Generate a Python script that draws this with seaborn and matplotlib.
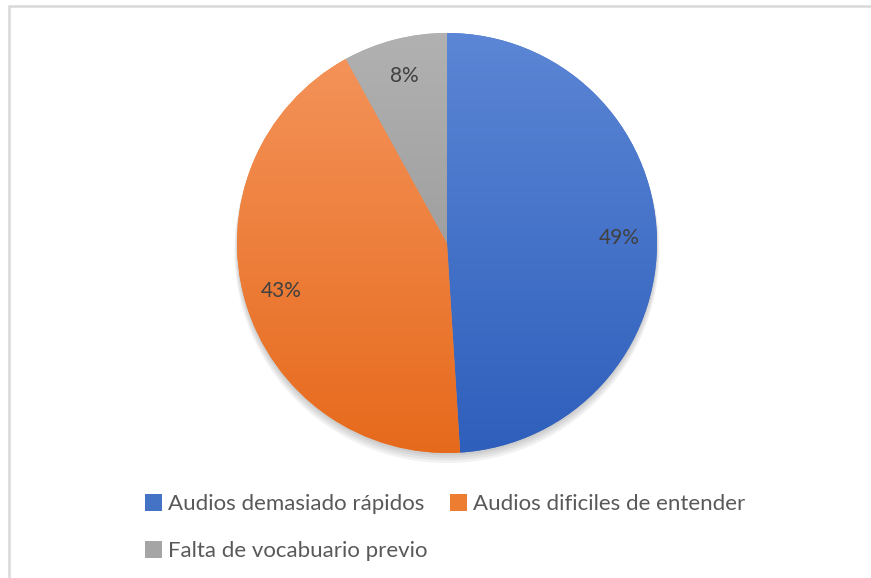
import numpy as np
import matplotlib
matplotlib.use("Agg")
import matplotlib.pyplot as plt
import seaborn as sns
from matplotlib.colors import LinearSegmentedColormap
from matplotlib.patches import Patch, Rectangle, Circle

categories = ["Audios demasiado rápidos", "Audios dificiles de entender", "Falta de vocabuario previo"]
values = [49, 43, 8]
top_colors = ["#5D87D6", "#F5965E", "#B2B2B2"]
bottom_colors = ["#2D5EBB", "#E6691B", "#8E8E8E"]
mid_colors = ["#4472C4", "#ED7D31", "#A5A5A5"]

sns.set_theme(style="white")
plt.rcParams['font.family'] = ['Lato', 'DejaVu Sans']

fig = plt.figure(figsize=(8.71, 5.78), dpi=100)
fig.patch.set_facecolor("white")

# outer chart border (only top and left visible, rest lies outside the image)
fig.add_artist(Rectangle((9 / 871, -10 / 578), 880 / 871, 582 / 578, transform=fig.transFigure,
                         fill=False, edgecolor="#D9D9D9", linewidth=1.8, clip_on=False))

ax = fig.add_axes([(447 - 220.5) / 871, (125 - 10.5) / 578, 441 / 871, 441 / 578])
ax.set_aspect("equal")

# soft shadow
for i in range(4):
    ax.add_patch(Circle((0, -0.012 - 0.008 * i), 1.0 + 0.004 * i, color="black", alpha=0.05, lw=0, zorder=0))

wedges, texts, autotexts = ax.pie(values, colors=mid_colors, startangle=90, counterclock=False,
                                  autopct=lambda p: f"{p:.0f}%", pctdistance=0.82,
                                  wedgeprops=dict(linewidth=0),
                                  textprops=dict(fontsize=15, color="#404040"))

grad = np.linspace(0, 1, 256).reshape(-1, 1)
for w, tc, bc in zip(wedges, top_colors, bottom_colors):
    cmap = LinearSegmentedColormap.from_list("g", [bc, tc])
    im = ax.imshow(grad, extent=[-1.05, 1.05, -1.05, 1.05], origin="lower", cmap=cmap,
                   aspect="auto", zorder=w.get_zorder() + 0.1)
    im.set_clip_path(w)
for t in autotexts:
    t.set_zorder(10)

ax.set_xlim(-1.05, 1.05)
ax.set_ylim(-1.05, 1.05)
ax.set_position([(447 - 220.5) / 871, (125 - 10.5) / 578, 441 / 871, 441 / 578])
ax.axis("off")

handles = [Patch(facecolor=c, edgecolor="none") for c in mid_colors]
order = [0, 2, 1]
fig.legend([handles[i] for i in order], [categories[i] for i in order], ncol=2,
           loc="upper left", bbox_to_anchor=(145 / 871, 1 - 494 / 578),
           frameon=False, fontsize=16, labelcolor="#595959",
           handlelength=0.75, handleheight=0.8, handletextpad=0.3,
           columnspacing=1.0, labelspacing=1.2, borderaxespad=0, borderpad=0)

fig.savefig("out.png", dpi=100, facecolor="white")
